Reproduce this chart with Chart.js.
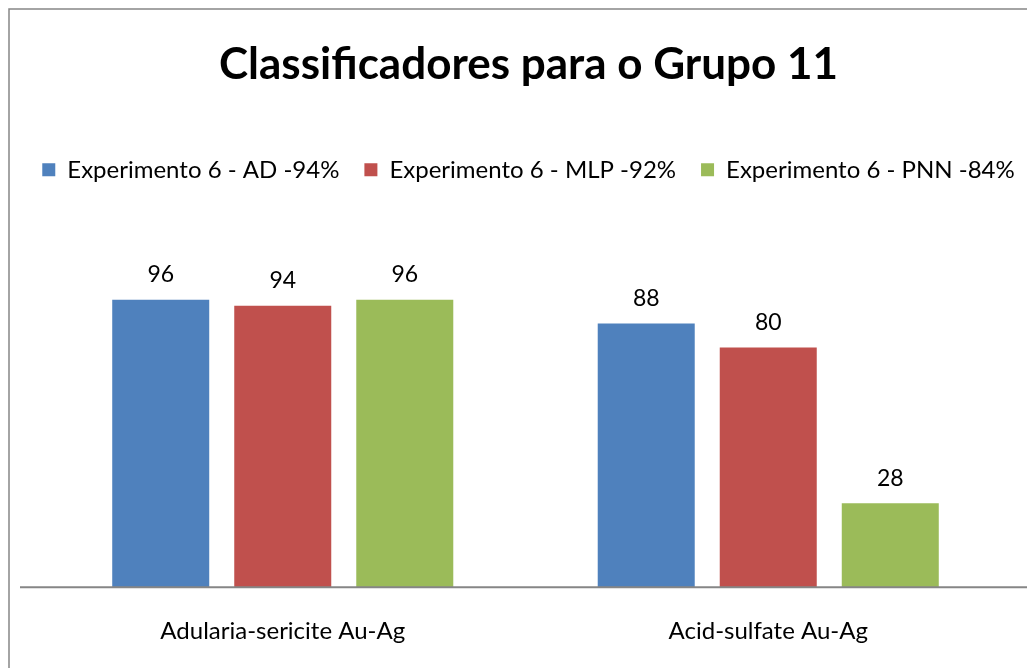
<!DOCTYPE html>
<html>
<head>
<meta charset="utf-8">
<script src="https://cdn.jsdelivr.net/npm/chart.js@4"></script>
<style>
  html, body { margin: 0; padding: 0; background: #fff; }
</style>
</head>
<body>
<canvas id="chart" width="1027" height="668"></canvas>
<script>
const categories = ['Adularia-sericite Au-Ag', 'Acid-sulfate Au-Ag'];
const seriesNames = ['Experimento 6 - AD -94%', 'Experimento 6 - MLP -92%', 'Experimento 6 - PNN -84%'];
const adValues = [96, 88];
const mlpValues = [94, 80];
const pnnValues = [96, 28];
const seriesColors = ['#4F81BD', '#C0504D', '#9BBB59'];

const FONT = 'Lato';

// white background + grey frame (only top/left edges visible in the picture)
const framePlugin = {
  id: 'frame',
  beforeDraw(chart) {
    const { ctx, width, height } = chart;
    ctx.save();
    ctx.fillStyle = '#fff';
    ctx.fillRect(0, 0, width, height);
    ctx.strokeStyle = '#868686';
    ctx.lineWidth = 1.5;
    ctx.strokeRect(9, 9, width + 20, height + 20);
    ctx.restore();
  },
};

// category axis line + value labels above bars
const barExtras = {
  id: 'barExtras',
  afterDatasetsDraw(chart) {
    const { ctx, width } = chart;
    const y0 = chart.scales.y.getPixelForValue(0);
    ctx.save();
    ctx.strokeStyle = '#868686';
    ctx.lineWidth = 2;
    ctx.beginPath();
    ctx.moveTo(20, y0);
    ctx.lineTo(width, y0);
    ctx.stroke();

    ctx.fillStyle = '#000';
    ctx.font = '23px ' + FONT;
    ctx.textAlign = 'center';
    ctx.textBaseline = 'middle';
    chart.data.datasets.forEach((ds, i) => {
      chart.getDatasetMeta(i).data.forEach((bar, j) => {
        ctx.fillText(String(ds.data[j]), bar.x, bar.y - 25);
      });
    });
    ctx.restore();
  },
};

const datasets = [adValues, mlpValues, pnnValues].map((vals, i) => ({
  label: seriesNames[i],
  data: vals,
  backgroundColor: seriesColors[i],
  borderWidth: 0,
  categoryPercentage: 0.754,
  barPercentage: 0.795,
}));

const hiddenAxis = (w) => ({
  display: true,
  ticks: { display: false },
  grid: { display: false, drawTicks: false },
  border: { display: false },
  afterFit(scale) { scale.width = w; },
});

new Chart(document.getElementById('chart'), {
  type: 'bar',
  data: { labels: categories, datasets },
  plugins: [framePlugin, barExtras],
  options: {
    responsive: false,
    animation: false,
    layout: { padding: { left: 0, right: -30, top: 0, bottom: -8 } },
    plugins: {
      title: {
        display: true,
        text: 'Classificadores para o Grupo 11',
        color: '#000',
        font: { family: FONT, size: 44, weight: 'bold' },
        padding: { top: 38, bottom: 42 },
      },
      legend: {
        position: 'top',
        labels: {
          color: '#000',
          font: { family: FONT, size: 24 },
          boxWidth: 13,
          boxHeight: 13,
          padding: 25,
        },
      },
      tooltip: { enabled: false },
    },
    scales: {
      x: {
        grid: { display: false, drawTicks: false },
        border: { display: false },
        ticks: { color: '#000', font: { family: FONT, size: 24 }, padding: 30 },
      },
      y: Object.assign(hiddenAxis(40), { min: 0, max: 132 }),
      yRight: Object.assign(hiddenAxis(46), { position: 'right' }),
    },
  },
});
</script>
</body>
</html>
